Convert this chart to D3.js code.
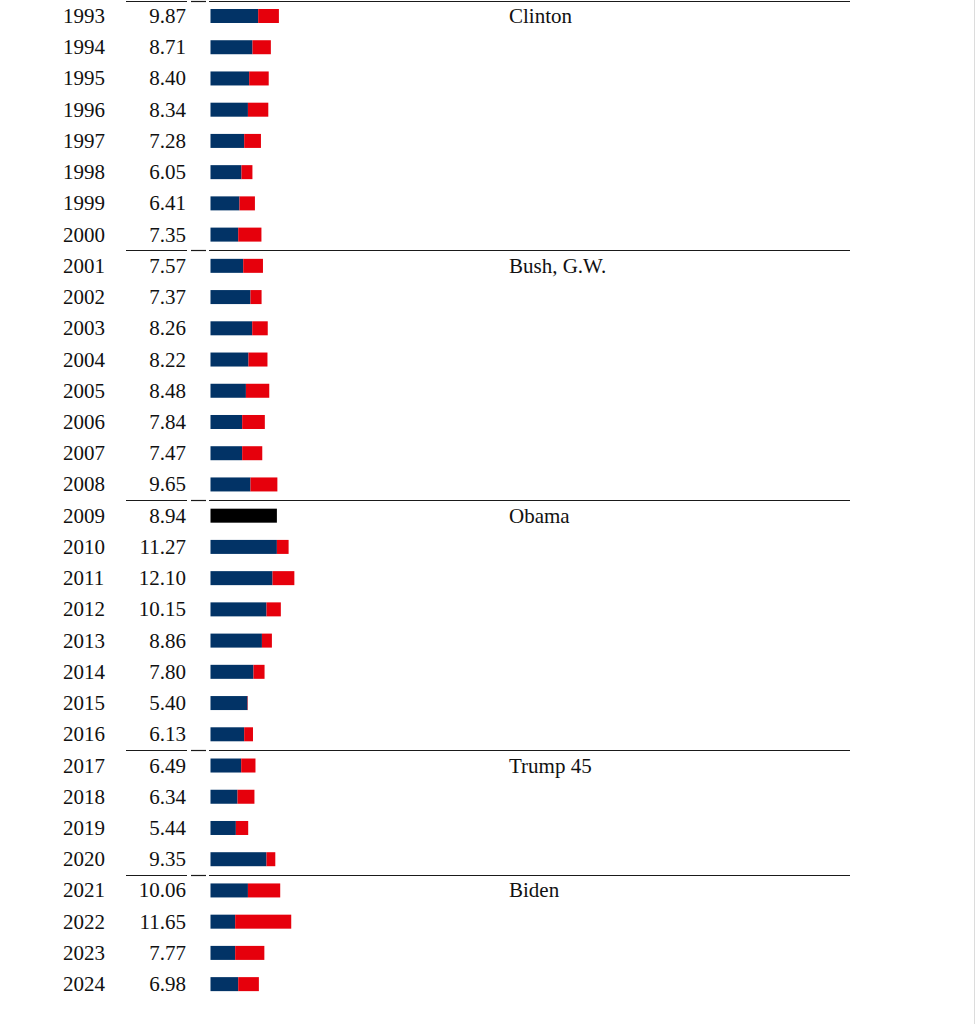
<!DOCTYPE html>
<html>
<head>
<meta charset="utf-8">
<script src="https://cdn.jsdelivr.net/npm/d3@7"></script>
<style>
  html, body { margin: 0; padding: 0; background: #fff; }
  svg { display: block; }
  text { font-family: "Liberation Serif", "Times New Roman", serif; font-size: 21px; fill: #111; }
</style>
</head>
<body>
<svg id="chart" width="977" height="1024"></svg>
<script>
const years = [1993,1994,1995,1996,1997,1998,1999,2000,
               2001,2002,2003,2004,2005,2006,2007,2008,
               2009,2010,2011,2012,2013,2014,2015,2016,
               2017,2018,2019,2020,2021,2022,2023,2024];
const values = ["9.87","8.71","8.40","8.34","7.28","6.05","6.41","7.35",
                "7.57","7.37","8.26","8.22","8.48","7.84","7.47","9.65",
                "8.94","11.27","12.10","10.15","8.86","7.80","5.40","6.13",
                "6.49","6.34","5.44","9.35","10.06","11.65","7.77","6.98"];
const blueParts = [6.88,6.06,5.58,5.40,4.86,4.47,4.18,4.00,
                   4.72,5.77,6.02,5.48,5.11,4.57,4.57,5.77,
                   0,9.58,8.95,8.08,7.42,6.20,5.34,4.86,
                   4.43,3.90,3.66,8.08,5.40,3.56,3.56,4.00];
const redParts  = [2.99,2.65,2.82,2.94,2.42,1.58,2.23,3.35,
                   2.85,1.60,2.24,2.74,3.37,3.27,2.90,3.88,
                   0,1.69,3.15,2.07,1.44,1.60,0.06,1.27,
                   2.06,2.44,1.78,1.27,4.66,8.09,4.21,2.98];
const blackBar = [{year: 2009, value: 9.58}];
const presidents = ["Clinton","Bush, G.W.","Obama","Trump 45","Biden"];
const presidentStart = [1993, 2001, 2009, 2017, 2021];

const svg = d3.select("#chart");
svg.append("rect").attr("width",977).attr("height",1024).attr("fill","#fff");
// right edge border
svg.append("line").attr("x1",974.5).attr("x2",974.5).attr("y1",0).attr("y2",1024)
   .attr("stroke","#dcdcdc").attr("stroke-width",1);

const y = d3.scaleBand().domain(years).range([0.5, 0.5 + 31.23*years.length]).padding(0);
const x = d3.scaleLinear().domain([0, 10]).range([210.5, 210.5 + 69.3]);
const blue = "#023366", red = "#e6000c";

const rows = svg.selectAll("g.row").data(years).join("g").attr("class","row")
  .attr("transform", d => `translate(0,${y(d)})`);

rows.append("text").attr("x", 63).attr("y", 22.5).text(d => d);
rows.append("text").attr("x", 186).attr("y", 22.5).attr("text-anchor","end")
  .text((d,i) => values[i]);

rows.append("rect").attr("x", x(0)).attr("y", 8.5).attr("height", 14)
  .attr("width", (d,i) => x(blueParts[i]) - x(0)).attr("fill", blue);
rows.append("rect").attr("x", (d,i) => x(blueParts[i])).attr("y", 8.5).attr("height", 14)
  .attr("width", (d,i) => x(blueParts[i] + redParts[i]) - x(blueParts[i])).attr("fill", red);

svg.selectAll("rect.black").data(blackBar).join("rect").attr("class","black")
  .attr("x", x(0)).attr("y", d => y(d.year) + 8.5).attr("height", 14)
  .attr("width", d => x(d.value) - x(0)).attr("fill", "#000");

// group separators and president labels
const segs = [[126,187],[191,206],[209,850]];
presidentStart.forEach((yr, k) => {
  const yy = Math.round(y(yr)) + 0.5;
  segs.forEach(s => {
    svg.append("line").attr("x1", s[0]).attr("x2", s[1]).attr("y1", yy).attr("y2", yy)
      .attr("stroke", "#1a1a1a").attr("stroke-width", 1.2);
  });
  svg.append("text").attr("x", 509).attr("y", y(yr) + 22.5).text(presidents[k]);
});
</script>
</body>
</html>
